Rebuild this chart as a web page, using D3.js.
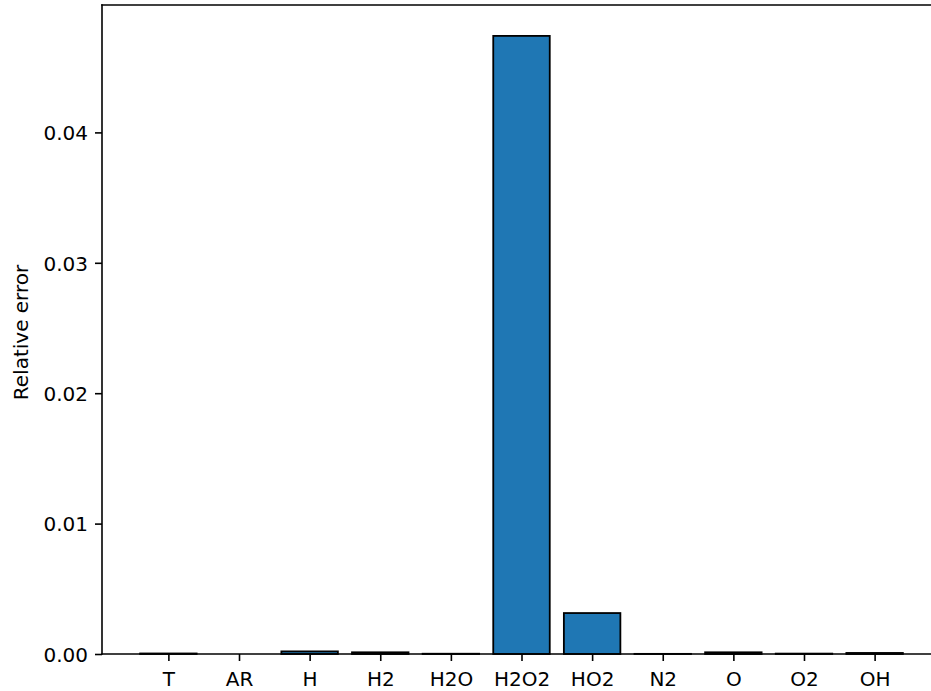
<!DOCTYPE html>
<html>
<head>
<meta charset="utf-8">
<script src="https://cdn.jsdelivr.net/npm/d3@7"></script>
<style>
  html, body { margin: 0; padding: 0; background: #fff; }
  svg { display: block; }
  text { font-family: "DejaVu Sans", sans-serif; fill: #000; }
</style>
</head>
<body>
<svg id="chart" width="931" height="691"></svg>
<script>
// Relative error per solution component
const species = ["T", "AR", "H", "H2", "H2O", "H2O2", "HO2", "N2", "O", "O2", "OH"];
const relErr  = [0.00004, 0.0, 0.0002, 0.00013, 0.00002, 0.0474, 0.00314, 0.00001, 0.00013, 0.00003, 0.00008];
const yTicks  = [0.00, 0.01, 0.02, 0.03, 0.04];
const yLabel  = "Relative error";

// plot area (the right spine sits just past the canvas edge)
const plotLeft = 102, plotTop = 5, plotRight = 941, plotBottom = 654;
const barWidth = 0.8;

const svg = d3.select("#chart");

const x = d3.scaleLinear()
  .domain([-0.5 - 0.44, species.length - 0.5 + 0.44])
  .range([plotLeft, plotRight]);

const yMax = d3.max(relErr) * 1.05;
const y = d3.scaleLinear().domain([0, yMax]).range([plotBottom, plotTop]);

// bars
svg.append("g")
  .selectAll("rect")
  .data(species)
  .join("rect")
  .attr("x", (d, i) => x(i - barWidth / 2))
  .attr("width", (d, i) => x(i + barWidth / 2) - x(i - barWidth / 2))
  .attr("y", (d, i) => y(relErr[i]))
  .attr("height", (d, i) => y(0) - y(relErr[i]))
  .attr("fill", "#1f77b4")
  .attr("stroke", "#000")
  .attr("stroke-width", 1.8);

// x axis
const xAxis = d3.axisBottom(x)
  .tickValues(d3.range(species.length))
  .tickFormat(i => species[i])
  .tickSizeInner(7)
  .tickSizeOuter(0)
  .tickPadding(7);
const gx = svg.append("g").attr("transform", `translate(0,${plotBottom})`).call(xAxis);
gx.select(".domain").remove();
gx.selectAll(".tick line").attr("stroke", "#000").attr("stroke-width", 1.6);
gx.selectAll(".tick text")
  .attr("y", 32).attr("dy", null)
  .style("font-size", "20px");

// y axis
const yAxis = d3.axisLeft(y)
  .tickValues(yTicks)
  .tickFormat(d3.format(".2f"))
  .tickSizeInner(7)
  .tickSizeOuter(0)
  .tickPadding(7);
const gy = svg.append("g").attr("transform", `translate(${plotLeft},0)`).call(yAxis);
gy.select(".domain").remove();
gy.selectAll(".tick line").attr("stroke", "#000").attr("stroke-width", 1.6);
gy.selectAll(".tick text")
  .attr("dy", "0.36em")
  .style("font-size", "20px");

// spines
const spines = svg.append("g")
  .attr("fill", "none")
  .attr("stroke", "#000")
  .attr("stroke-width", 1.6)
  .attr("stroke-linecap", "square");
spines.append("line").attr("x1", plotLeft).attr("x2", plotLeft).attr("y1", plotTop).attr("y2", plotBottom);
spines.append("line").attr("x1", plotLeft).attr("x2", plotRight).attr("y1", plotBottom).attr("y2", plotBottom);
spines.append("line").attr("x1", plotLeft).attr("x2", plotRight).attr("y1", plotTop).attr("y2", plotTop);
spines.append("line").attr("x1", plotRight).attr("x2", plotRight).attr("y1", plotTop).attr("y2", plotBottom);

// y label
svg.append("text")
  .attr("transform", `translate(27.5,${(plotTop + plotBottom) / 2 + 3}) rotate(-90)`)
  .attr("text-anchor", "middle")
  .style("font-size", "20px")
  .text(yLabel);
</script>
</body>
</html>
